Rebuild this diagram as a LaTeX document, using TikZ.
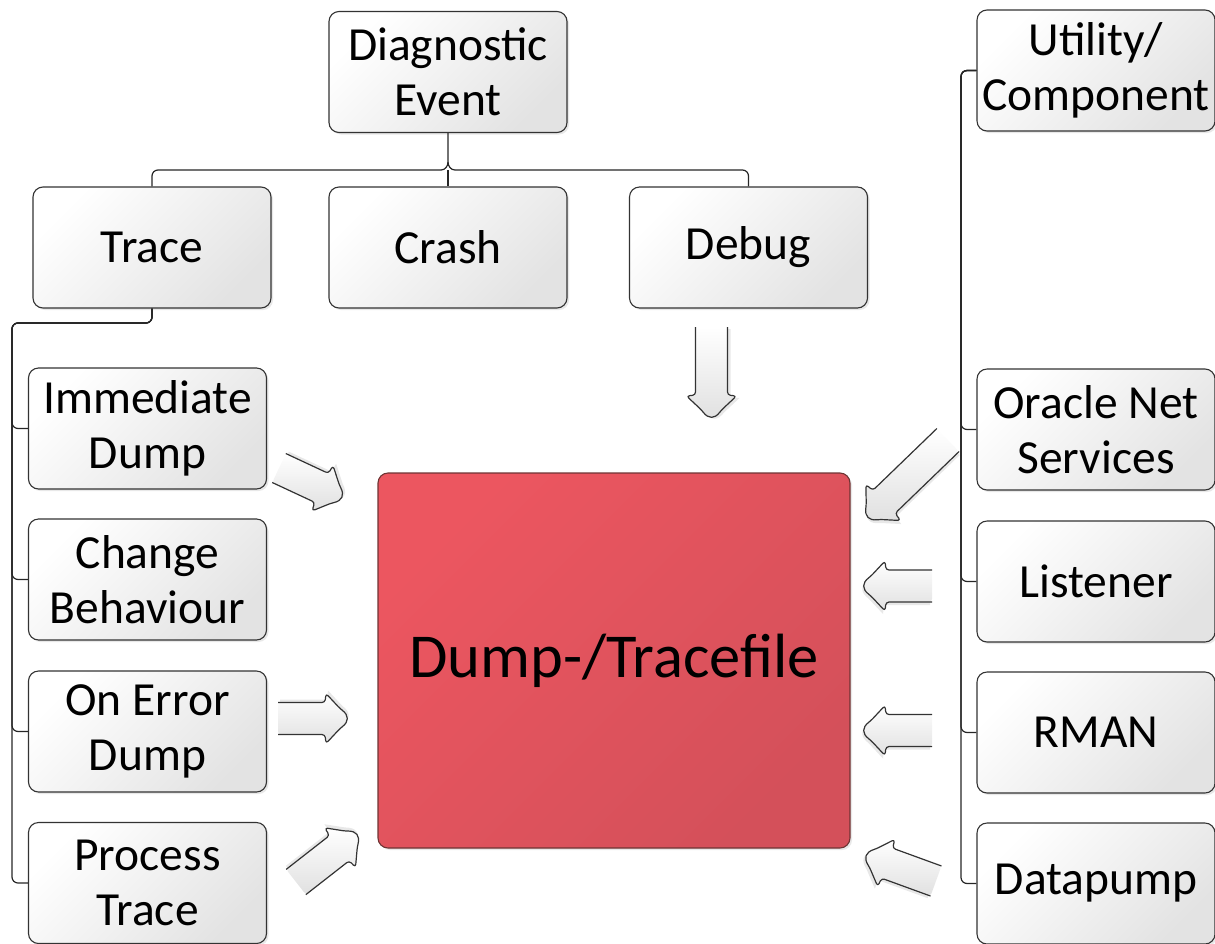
\documentclass[tikz,border=0pt]{standalone}
\usepackage{fontspec}
\setmainfont{Carlito}
\usetikzlibrary{shadows,calc}
\definecolor{redA}{HTML}{EC5660}
\definecolor{redB}{HTML}{D4505A}
\definecolor{redBorder}{HTML}{6E3434}
\tikzset{
  box/.style={draw=black!80, line width=1.1pt, rounded corners=10pt,
    minimum width=238pt, minimum height=121pt, inner sep=0pt,
    top color=white, bottom color=black!11, shading angle=45,
    align=center, font=\fontsize{47.5}{55}\selectfont,
    drop shadow={shadow xshift=2pt, shadow yshift=-2pt, opacity=0.18}},
  redbox/.style={draw=redBorder, line width=1.1pt, rounded corners=10pt,
    minimum width=472pt, minimum height=375pt, inner sep=0pt,
    top color=redA, bottom color=redB, shading angle=45,
    font=\fontsize{62.5}{70}\selectfont,
    drop shadow={shadow xshift=2pt, shadow yshift=-2pt, opacity=0.18}},
  conn/.style={draw=black!85, line width=1.2pt, rounded corners=6pt},
  link/.style={draw=black!85, line width=1.2pt},
  arrfill/.style={top color=white, bottom color=black!12},
  arrline/.style={draw=black!80, line width=1.2pt, line join=round},
}
\newcommand\blkarrow[4]{%
  \begin{scope}[shift={(#1,#2)}, rotate=#3]
    \fill[black, opacity=0.09] (2,-19) -- (#4-21,-19) -- (#4-20,-28) -- (#4-6,-13)
      .. controls (#4+3,-6) and (#4+3,0) .. (#4-6,7) -- (#4-20,22) -- (#4-21,13) -- (2,13) -- cycle;
    \path[arrfill, rounded corners=3pt] (0,-16) -- (#4-23,-16) -- (#4-22,-25) -- (#4-8,-10)
      .. controls (#4+1,-3) and (#4+1,3) .. (#4-8,10) -- (#4-22,25) -- (#4-23,16) -- (0,16) -- cycle;
    \draw[arrline, rounded corners=3pt] (0,-16) -- (#4-23,-16) -- (#4-22,-25) -- (#4-8,-10)
      .. controls (#4+1,-3) and (#4+1,3) .. (#4-8,10) -- (#4-22,25) -- (#4-23,16) -- (0,16);
  \end{scope}}
\begin{document}
\begin{tikzpicture}[x=1pt, y=-1pt]
\useasboundingbox (0,0) rectangle (1215,943);
% top row
\node[box] (Diag)  at (448,72)    {Diagnostic\\Event};
\node[box] (Trace) at (152,247.5) {Trace};
\node[box] (Crash) at (448,247.5) {Crash};
\node[box] (Debug) at (748.5,247.5) {Debug};
\node[box] (Util)  at (1096,70.5) {Utility/\\Component};
% left column
\node[box] (Imm)  at (147.5,428.5) {Immediate\\Dump};
\node[box] (Chg)  at (147.5,579.5) {Change\\Behaviour};
\node[box] (Err)  at (147.5,731.5) {On Error\\Dump};
\node[box] (Proc) at (147.5,883)   {Process\\Trace};
% right column
\node[box] (Ora)  at (1096,429.5) {Oracle Net\\Services};
\node[box] (Lis)  at (1096,581.5) {Listener};
\node[box] (Rman) at (1096,732.5) {RMAN};
\node[box] (Dp)   at (1096,883.5) {Datapump};
% central
\node[redbox] (Dump) at (614,660.5) {Dump-/Tracefile};
% tree connectors top
\coordinate (jt) at (448,162);
\coordinate (jl) at (441,170);
\coordinate (jr) at (455,170);
\coordinate (jc) at (448,170);
\draw[link] (Diag.south) -- (jt) to[out=-90,in=0] (jl);
\draw[link] (jt) to[out=-90,in=180] (jr);
\draw[conn] (jl) -- (152,170) -- (Trace.north);
\draw[conn] (jr) -- (748.5,170) -- (Debug.north);
\draw[link] (jc) -- (Crash.north);
% left tree
\foreach \n in {Imm,Chg,Err,Proc}
  \draw[conn] (Trace.south) -- (152,323) -- (12,323) |- (\n.west);
% right tree
\foreach \n in {Ora,Lis,Rman,Dp}
  \draw[conn] (Util.west) -- (961,70.5) |- (\n.west);
% block arrows
\blkarrow{711.5}{327}{-90}{91}
\blkarrow{279}{468}{-25}{70}
\blkarrow{278}{718.5}{0}{70}
\blkarrow{296}{882}{38}{78}
\blkarrow{948}{440}{-136}{112}
\blkarrow{932}{586}{180}{69}
\blkarrow{932}{730.5}{180}{69}
\blkarrow{936}{881}{160}{75}
\end{tikzpicture}
\end{document}
